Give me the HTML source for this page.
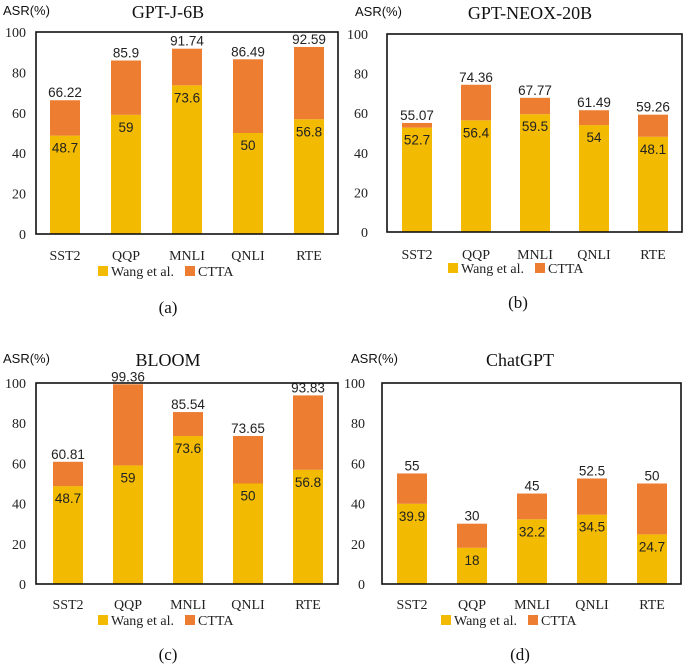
<!DOCTYPE html>
<html><head><meta charset="utf-8"><style>
html,body{margin:0;padding:0;background:#fff;width:685px;height:671px;overflow:hidden}
svg{display:block}
</style></head><body>
<svg id="fig" width="685" height="671" xmlns="http://www.w3.org/2000/svg"></svg>
<script>
const categories = ["SST2","QQP","MNLI","QNLI","RTE"];
const titles = ["GPT-J-6B","GPT-NEOX-20B","BLOOM","ChatGPT"];
const panelLetters = ["(a)","(b)","(c)","(d)"];
const yTicks = [0,20,40,60,80,100];
const wangA = [48.7,59,73.6,50,56.8];
const cttaA = [66.22,85.9,91.74,86.49,92.59];
const wangB = [52.7,56.4,59.5,54,48.1];
const cttaB = [55.07,74.36,67.77,61.49,59.26];
const wangC = [48.7,59,73.6,50,56.8];
const cttaC = [60.81,99.36,85.54,73.65,93.83];
const wangD = [39.9,18,32.2,34.5,24.7];
const cttaD = [55,30,45,52.5,50];

const NS="http://www.w3.org/2000/svg";
const svg=document.getElementById('fig');
function mk(tag,attrs,parent,text){const e=document.createElementNS(NS,tag);for(const k in attrs)e.setAttribute(k,attrs[k]);if(text!==undefined)e.textContent=text;parent.appendChild(e);return e;}

const layouts=[
 {x0:36,x1:338,y0:32,y1:234,first:50,step:61,bw:30,tickX:26,titleX:168,titleY:18,asrX:3,asrY:15,labY:260,legY:276,legX:98,letY:313,letX:168},
 {x0:387,x1:682,y0:34,y1:232,first:402,step:59,bw:30,tickX:368,titleX:530,titleY:19,asrX:355,asrY:16,labY:259,legY:273,legX:448,letY:308,letX:518},
 {x0:36,x1:338,y0:383,y1:584,first:53,step:60,bw:30,tickX:26,titleX:168,titleY:366,asrX:3,asrY:363,labY:609,legY:625,legX:98,letY:660,letX:168},
 {x0:382,x1:681,y0:383,y1:584,first:397,step:60,bw:30,tickX:365,titleX:520,titleY:366,asrX:351,asrY:363,labY:609,legY:625,legX:441,letY:660,letX:520}
];
const wangs=[wangA,wangB,wangC,wangD];
const cttas=[cttaA,cttaB,cttaC,cttaD];
const serif='"Liberation Serif", serif';
const sans='"Liberation Sans", sans-serif';

layouts.forEach((L,p)=>{
  const g=mk('g',{},svg);
  
  
  const yS=v=>L.y1-(v/100)*(L.y1-L.y0);
  const xS=i=>L.first+i*L.step;
  categories.forEach((c,i)=>{
    const w=wangs[p][i], t=cttas[p][i], x=xS(i);
    const rb=mk('rect',{x:x,y:yS(w),width:L.bw,height:yS(0)-yS(w),fill:'#F2BA00'},g);
    
    
    const rt=mk('rect',{x:x,y:yS(t),width:L.bw,height:yS(w)-yS(t),fill:'#ED7D31'},g);
    
    
    const l1=mk('text',{x:x+L.bw/2,y:yS(w)+17,'text-anchor':'middle','font-family':sans,'font-size':13.5,fill:'#222'},g,String(w));
    
    
    const l2=mk('text',{x:x+L.bw/2,y:yS(t)-3,'text-anchor':'middle','font-family':sans,'font-size':13.5,fill:'#222'},g,String(t));
    
    
    const xl=mk('text',{x:x+L.bw/2,y:L.labY,'text-anchor':'middle','font-family':serif,'font-size':14,fill:'#222'},g,c);
    
    
  });
  const box=mk('rect',{x:L.x0,y:L.y0,width:L.x1-L.x0,height:L.y1-L.y0,fill:'none',stroke:'#111','stroke-width':1.6},g);
  
  
  yTicks.forEach(v=>{
    const t=mk('text',{x:L.tickX,y:yS(v)+5,'text-anchor':'end','font-family':serif,'font-size':14,fill:'#222'},g,String(v));
    
    
  });
  const ti=mk('text',{x:L.titleX,y:L.titleY,'text-anchor':'middle','font-family':serif,'font-size':18,fill:'#111'},g,titles[p]);
  
  
  const asr=mk('text',{x:L.asrX,y:L.asrY,'font-family':sans,'font-size':13,fill:'#111'},g,'ASR(%)');
  
  
  const lg=mk('g',{},g);
  
  
  mk('rect',{x:L.legX,y:L.legY-10,width:10,height:10,fill:'#F2BA00'},lg);
  const le1=mk('text',{x:L.legX+13,y:L.legY,'font-family':serif,'font-size':14,fill:'#222'},lg,'Wang et al.');
  
  
  mk('rect',{x:L.legX+87,y:L.legY-10,width:10,height:10,fill:'#ED7D31'},lg);
  const le2=mk('text',{x:L.legX+100,y:L.legY,'font-family':serif,'font-size':14,fill:'#222'},lg,'CTTA');
  
  
  const lt=mk('text',{x:L.letX,y:L.letY,'text-anchor':'middle','font-family':serif,'font-size':17,fill:'#111'},g,panelLetters[p]);
  
  
});
</script>
</body></html>
